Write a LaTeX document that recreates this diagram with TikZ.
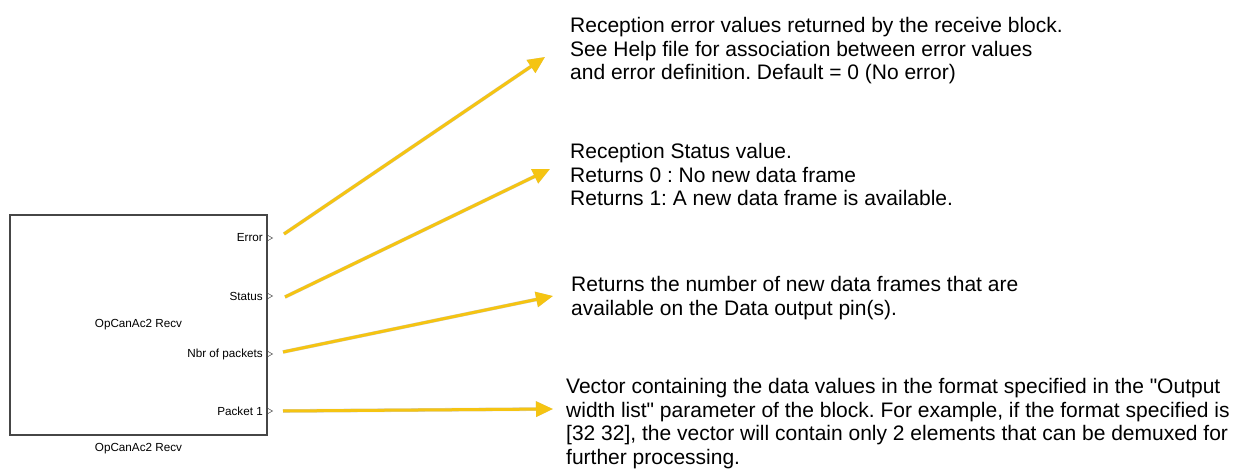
\documentclass[tikz,border=0pt]{standalone}
\usepackage{fontspec}
\setmainfont{Liberation Sans}
\usetikzlibrary{arrows.meta,positioning}
\frenchspacing

\definecolor{calloutYellow}{RGB}{245,196,18}
\definecolor{calloutShadow}{RGB}{150,150,150}
\definecolor{blockBorder}{RGB}{70,70,70}

\begin{document}
\begin{tikzpicture}[x=1pt, y=-1pt,
		% block and its ports
		recvblock/.style={draw=blockBorder, line width=1.2pt, minimum width=257pt, minimum height=220pt,
			inner sep=0pt, font=\fontsize{11.7}{13}\selectfont},
		portlabel/.style={anchor=east, inner sep=0pt, font=\fontsize{11.7}{13}\selectfont},
		% yellow callouts
		callout/.style={-{Triangle[length=17pt,width=15pt]}, line width=3pt, calloutYellow},
		calloutshade/.style={callout, calloutShadow, opacity=0.45, line width=3.6pt, shift={(3,4)}},
		% explanation texts
		note/.style={anchor=north west, align=left, inner sep=0pt, font=\fontsize{21}{23.5}\selectfont}
	]
	% ==================================================
	% 1. frame of the picture
	% ==================================================
	\useasboundingbox (0,0) rectangle (1256,470);

	% ==================================================
	% 2. the receive block
	% ==================================================
	\node[recvblock] (recv) at (138.5,325) {OpCanAc2 Recv};
	\node[below=4pt of recv, font=\fontsize{11.7}{13}\selectfont] (recvname) {OpCanAc2 Recv};

	% output ports: name / label / y
	\foreach \name/\lab/\y in {err/Error/238, sta/Status/296, nbr/Nbr of packets/354, pkt/Packet 1/411} {
		\node[portlabel] (\name) at (263,\y) {\lab};
		\draw[blockBorder, line width=0.5pt] (267.5,\y-2.8) -- (272.5,\y) -- (267.5,\y+2.8) -- cycle;
	}

	% ==================================================
	% 3. explanation texts
	% ==================================================
	\node[note] (errNote) at (570,17.5) {Reception error values returned by the receive block.\\
		See Help file for association between error values\\
		and error definition. Default = 0 (No error)};
	\node[note] (staNote) at (570,143.5) {Reception Status value.\\
		Returns 0 : No new data frame\\
		Returns 1: A new data frame is available.};
	\node[note] (nbrNote) at (571,276.5) {Returns the number of new data frames that are\\
		available on the Data output pin(s).};
	\node[note] (pktNote) at (566,378.5) {Vector containing the data values in the format specified in the \textquotedbl Output\\
		width list\textquotedbl{} parameter of the block. For example, if the format specified is\\
		{[32 32]}, the vector will contain only 2 elements that can be demuxed for\\
		further processing.};

	% ==================================================
	% 4. callout arrows (start / tip)
	% ==================================================
	\coordinate (errFrom) at (284,234);  \coordinate (errTo) at (545,57);
	\coordinate (staFrom) at (285,297);  \coordinate (staTo) at (550,169);
	\coordinate (nbrFrom) at (283,352);  \coordinate (nbrTo) at (553,296);
	\coordinate (pktFrom) at (283,411);  \coordinate (pktTo) at (553,409);

	% shadow first, yellow on top
	\foreach \s in {err,sta,nbr,pkt} {
		\draw[calloutshade] (\s From) -- (\s To);
		\draw[callout] (\s From) -- (\s To);
	}

\end{tikzpicture}
\end{document}
